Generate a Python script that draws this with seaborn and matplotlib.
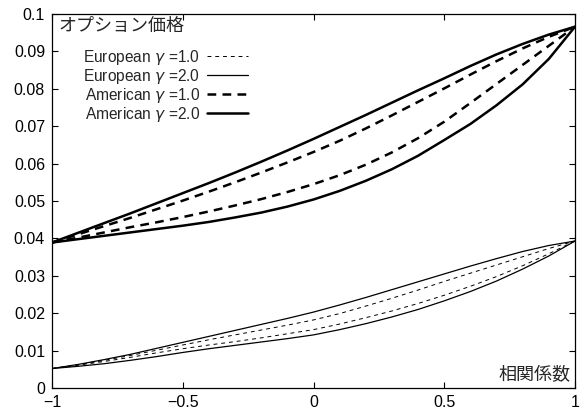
import numpy as np
import pandas as pd
import matplotlib
matplotlib.use("Agg")
import matplotlib.pyplot as plt
import seaborn as sns

# correlation grid (x axis)
rho = [-1.0, -0.9, -0.8, -0.7, -0.6, -0.5, -0.4, -0.3, -0.2, -0.1, 0.0,
       0.1, 0.2, 0.3, 0.4, 0.5, 0.6, 0.7, 0.8, 0.9, 1.0]

# American options: upper / lower curve for each gamma
am_g2_up = [0.0389, 0.0415, 0.0441, 0.0467, 0.0494, 0.0521, 0.0548, 0.0576, 0.0605, 0.0635, 0.0666,
            0.0698, 0.0730, 0.0763, 0.0796, 0.0828, 0.0861, 0.0892, 0.0920, 0.0945, 0.0966]
am_g1_up = [0.0389, 0.0411, 0.0433, 0.0455, 0.0478, 0.0501, 0.0525, 0.0550, 0.0576, 0.0603, 0.0631,
            0.0661, 0.0694, 0.0729, 0.0765, 0.0801, 0.0838, 0.0874, 0.0908, 0.0939, 0.0966]
am_g1_lo = [0.0389, 0.0402, 0.0416, 0.0430, 0.0443, 0.0457, 0.0472, 0.0488, 0.0505, 0.0524, 0.0545,
            0.0569, 0.0597, 0.0630, 0.0668, 0.0712, 0.0762, 0.0813, 0.0864, 0.0915, 0.0966]
am_g2_lo = [0.0389, 0.0398, 0.0407, 0.0416, 0.0425, 0.0434, 0.0444, 0.0456, 0.0469, 0.0485, 0.0504,
            0.0527, 0.0554, 0.0585, 0.0621, 0.0663, 0.0706, 0.0756, 0.0812, 0.0880, 0.0966]

# European options
eu_g2_up = [0.0052, 0.0063, 0.0076, 0.0090, 0.0106, 0.0122, 0.0138, 0.0154, 0.0170, 0.0186, 0.0203,
            0.0222, 0.0242, 0.0263, 0.0284, 0.0305, 0.0326, 0.0346, 0.0365, 0.0381, 0.0393]
eu_g1_up = [0.0052, 0.0062, 0.0074, 0.0087, 0.0101, 0.0115, 0.0129, 0.0142, 0.0155, 0.0168, 0.0182,
            0.0199, 0.0219, 0.0240, 0.0262, 0.0285, 0.0307, 0.0329, 0.0351, 0.0373, 0.0393]
eu_g1_lo = [0.0052, 0.0061, 0.0071, 0.0082, 0.0094, 0.0105, 0.0115, 0.0124, 0.0134, 0.0145, 0.0156,
            0.0171, 0.0188, 0.0206, 0.0226, 0.0248, 0.0272, 0.0298, 0.0327, 0.0359, 0.0393]
eu_g2_lo = [0.0052, 0.0058, 0.0065, 0.0074, 0.0084, 0.0095, 0.0105, 0.0114, 0.0123, 0.0132, 0.0142,
            0.0156, 0.0172, 0.0190, 0.0210, 0.0233, 0.0258, 0.0286, 0.0318, 0.0353, 0.0393]

labels = ["European $\\gamma$ =1.0", "European $\\gamma$ =2.0",
          "American $\\gamma$ =1.0", "American $\\gamma$ =2.0"]
xticks = [-1, -0.5, 0, 0.5, 1]
xticklabels = ["\u22121", "\u22120.5", "0", "0.5", "1"]
yticks = [0, 0.01, 0.02, 0.03, 0.04, 0.05, 0.06, 0.07, 0.08, 0.09, 0.1]
yticklabels = ["0", "0.01", "0.02", "0.03", "0.04", "0.05", "0.06", "0.07", "0.08", "0.09", "0.1"]

sns.set_style("ticks")
plt.rcParams['font.family'] = ['Liberation Sans', 'Noto Sans CJK JP', 'DejaVu Sans']
plt.rcParams['mathtext.fontset'] = 'dejavusans'

fig = plt.figure(figsize=(5.87, 4.12), dpi=100)
ax = fig.add_axes([52 / 587, 1 - 388 / 412, (575 - 52) / 587, (388 - 14) / 412])

# (curves, label, linewidth, dashes)
series = [
    ([eu_g1_up, eu_g1_lo], labels[0], 0.7, (4, 4)),
    ([eu_g2_up, eu_g2_lo], labels[1], 0.9, None),
    ([am_g1_up, am_g1_lo], labels[2], 1.8, (3.5, 2.5)),
    ([am_g2_up, am_g2_lo], labels[3], 1.8, None),
]

for curves, lab, lw, dash in series:
    for i, vals in enumerate(curves):
        kw = dict(color="black", linewidth=lw)
        if dash is not None:
            kw["dashes"] = dash
        sns.lineplot(x=rho, y=vals, ax=ax, label=lab if i == 0 else None, **kw)

ax.set_xlim(-1, 1)
ax.set_ylim(0, 0.1)
ax.set_xticks(xticks)
ax.set_xticklabels(xticklabels)
ax.set_yticks(yticks)
ax.set_yticklabels(yticklabels)
ax.tick_params(direction="in", top=True, right=True, length=4.5, width=0.8,
               labelsize=11.5, colors="black", pad=5)
for s in ax.spines.values():
    s.set_linewidth(0.9)
    s.set_color("black")
ax.set_xlabel("")
ax.set_ylabel("")

ax.text(0.012, 0.99, "オプション価格", transform=ax.transAxes, ha="left", va="top", fontsize=13)
ax.text(0.992, 0.01, "相関係数", transform=ax.transAxes, ha="right", va="bottom", fontsize=13)

leg = ax.legend(loc="upper left", bbox_to_anchor=(0.06, 0.91), frameon=False,
                markerfirst=False, handlelength=2.6, handletextpad=0.45,
                labelspacing=0.0, borderpad=0, borderaxespad=0, fontsize=11.2)

fig.savefig("out.png", dpi=100)
